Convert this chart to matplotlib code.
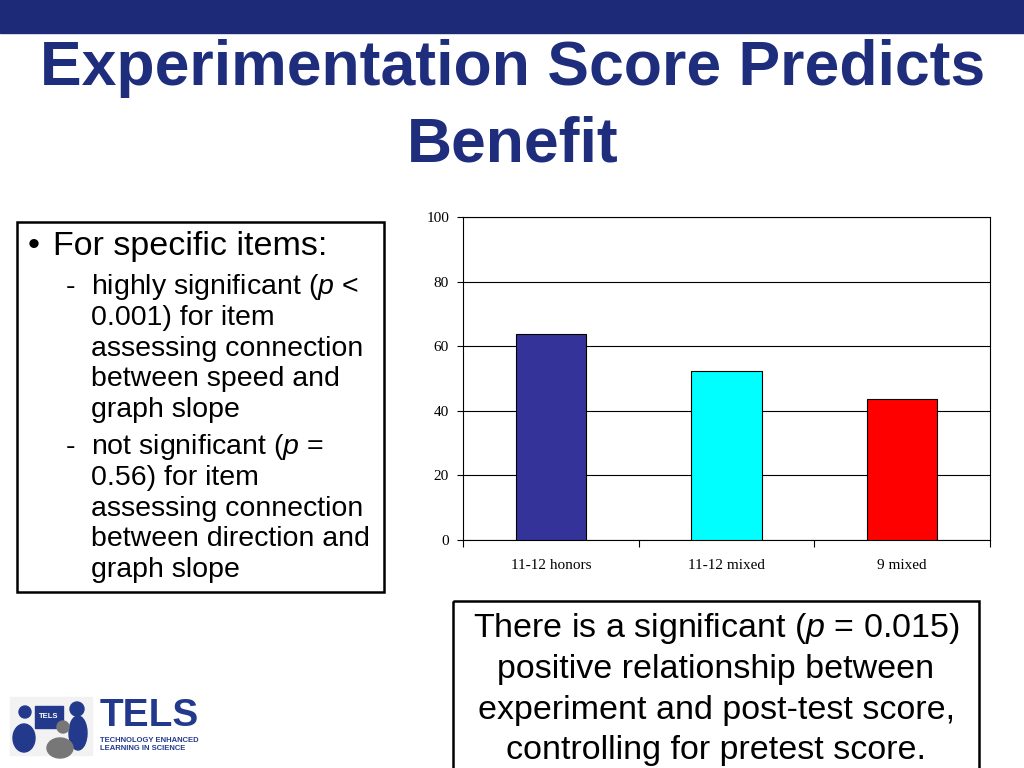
import matplotlib.pyplot as plt
from matplotlib.patches import Rectangle, Circle, Ellipse

plt.rcParams['font.family'] = ['Liberation Sans', 'DejaVu Sans']
plt.rcParams['mathtext.fontset'] = 'custom'
plt.rcParams['mathtext.it'] = 'Liberation Sans:italic'
plt.rcParams['mathtext.rm'] = 'Liberation Sans'

groups = ['11-12 honors', '11-12 mixed', '9 mixed']
scores = [63.7, 52.2, 43.5]
bar_colors = ['#333399', '#00FFFF', '#FF0000']
y_ticks = [0, 20, 40, 60, 80, 100]

left_lines = ['highly significant ($\\mathit{p}$ <', '0.001) for item', 'assessing connection',
              'between speed and', 'graph slope']
left_lines2 = ['not significant ($\\mathit{p}$ =', '0.56) for item', 'assessing connection',
               'between direction and', 'graph slope']
right_lines = ['There is a significant ($\\mathit{p}$ = 0.015)', 'positive relationship between',
               'experiment and post-test score,', 'controlling for pretest score.']

W, H = 1024, 768
navy = '#1C2A78'

fig = plt.figure(figsize=(10.24, 7.68), dpi=100)
bg = fig.add_axes([0, 0, 1, 1])
bg.set_xlim(0, W)
bg.set_ylim(H, 0)
bg.axis('off')

# top band and title
bg.add_patch(Rectangle((0, 0), W, 33, color=navy))
bg.text(513, 85, 'Experimentation Score Predicts', ha='center', va='baseline',
        fontsize=45, fontweight='bold', color='#1F2D7D')
bg.text(513, 161, 'Benefit', ha='center', va='baseline',
        fontsize=45, fontweight='bold', color='#1F2D7D')

# left text box
bg.add_patch(Rectangle((17, 222), 367, 370, fill=False, ec='black', lw=1.8))
bg.text(28, 247, '\u2022', ha='left', va='center', fontsize=24.5)
bg.text(53, 247, 'For specific items:', ha='left', va='center', fontsize=24.5)
for start, lines in [(287, left_lines), (447, left_lines2)]:
    bg.text(66, start, '-', ha='left', va='center', fontsize=20.5)
    for i, line in enumerate(lines):
        bg.text(91, start + i * 30.8, line, ha='left', va='center', fontsize=20.5)

# right text box
bg.add_patch(Rectangle((453, 601), 526, 180, fill=False, ec='black', lw=1.8, clip_on=False))
for i, line in enumerate(right_lines):
    bg.text(716, 629 + i * 40.5, line, ha='center', va='center', fontsize=24.5)

# logo
bg.add_patch(Rectangle((10, 697), 82, 58, color='#F2F2F2'))
bg.add_patch(Rectangle((35, 706), 28, 22, color='#233A8C'))
bg.text(49, 717, 'TELS', ha='center', va='center', fontsize=5.5, fontweight='bold', color='white')
bg.add_patch(Circle((25, 712), 6, color='#233A8C'))
bg.add_patch(Ellipse((24, 738), 22, 28, color='#233A8C'))
bg.add_patch(Circle((77, 709), 7, color='#233A8C'))
bg.add_patch(Ellipse((78, 733), 18, 34, color='#233A8C'))
bg.add_patch(Circle((63, 727), 6, color='#777777'))
bg.add_patch(Ellipse((60, 748), 26, 20, color='#777777'))
bg.text(100, 716, 'TELS', ha='left', va='center', fontsize=28, fontweight='bold', color='#233A8C')
bg.text(100, 741, 'TECHNOLOGY ENHANCED', ha='left', va='center', fontsize=5.5,
        fontweight='bold', color='#233A8C')
bg.text(100, 748, 'LEARNING IN SCIENCE', ha='left', va='center', fontsize=5.5,
        fontweight='bold', color='#233A8C')

# bar chart
ax = fig.add_axes([463 / W, 1 - 540 / H, (990 - 463) / W, (540 - 217) / H])
x = list(range(len(groups)))
ax.bar(x, scores, width=0.4, color=bar_colors, edgecolor='black', linewidth=0.8, zorder=3)
ax.set_xlim(-0.5, 2.5)
ax.set_ylim(0, 100)
ax.set_yticks(y_ticks)
ax.yaxis.grid(True, color='black', linewidth=0.8, zorder=0)
ax.set_xticks([-0.5, 0.5, 1.5, 2.5])
ax.set_xticklabels([])
ax.set_xticks(x, minor=True)
ax.set_xticklabels(groups, minor=True, fontsize=11, family='Liberation Serif')
ax.tick_params(axis='x', which='minor', length=0, pad=14)
ax.tick_params(axis='x', which='major', length=5, width=0.8, direction='out')
ax.tick_params(axis='y', length=4, width=0.8, labelsize=11, pad=6)
for lbl in ax.get_yticklabels():
    lbl.set_family('Liberation Serif')
for s in ax.spines.values():
    s.set_linewidth(0.8)

fig.savefig('out.png', dpi=100)
